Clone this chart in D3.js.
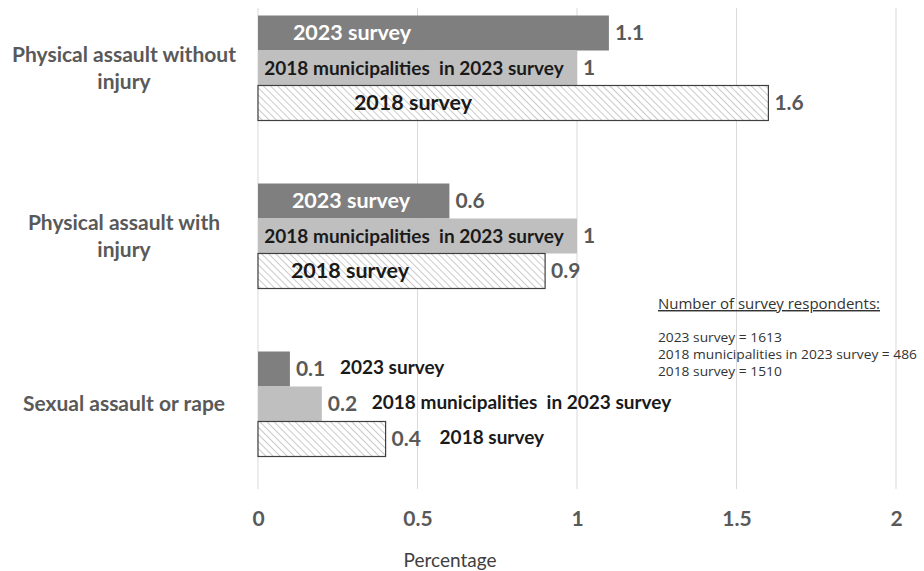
<!DOCTYPE html>
<html><head><meta charset="utf-8">
<script src="https://cdn.jsdelivr.net/npm/d3@7"></script>
<style>body{margin:0;background:#fff}svg{display:block}</style>
</head><body>
<svg id="c" width="924" height="571"></svg>
<script>
const categories = ["Physical assault without injury", "Physical assault with injury", "Sexual assault or rape"];
const categoryLines = [["Physical assault without", "injury"], ["Physical assault with", "injury"], ["Sexual assault or rape"]];
const series = ["2023 survey", "2018 municipalities  in 2023 survey", "2018 survey"];
const values2023 = [1.1, 0.6, 0.1];
const valuesMuni = [1, 1, 0.2];
const values2018 = [1.6, 0.9, 0.4];
const xTicks = [0, 0.5, 1, 1.5, 2];
const xTitle = "Percentage";
const noteTitle = "Number of survey respondents:";
const noteLines = ["2023 survey = 1613", "2018 municipalities in 2023 survey = 486", "2018 survey = 1510"];

const allValues = [values2023, valuesMuni, values2018];
const svg = d3.select("#c");
const font = "Lato, 'Open Sans', sans-serif";
const x = d3.scaleLinear().domain([0, 2]).range([258, 896]);
const y = d3.scaleBand().domain(categories).range([-16, 488]);
const yi = d3.scaleBand().domain(series).range([-52.5, 52.5]);

// hatch pattern
const defs = svg.append("defs");
const pat = defs.append("pattern").attr("id", "hatch").attr("patternUnits", "userSpaceOnUse")
  .attr("width", 5).attr("height", 5).attr("patternTransform", "rotate(-45)");
pat.append("rect").attr("width", 5).attr("height", 5).attr("fill", "#fff");
pat.append("line").attr("x1", 0).attr("y1", 0).attr("x2", 0).attr("y2", 5)
  .attr("stroke", "#bdbdbd").attr("stroke-width", 1.6);

// gridlines
svg.append("g").selectAll("line").data(xTicks).join("line")
  .attr("x1", d => x(d)).attr("x2", d => x(d)).attr("y1", 8).attr("y2", 489)
  .attr("stroke", "#d9d9d9").attr("stroke-width", 1);

// axis tick labels
const ax = d3.axisBottom(x).tickValues(xTicks).tickFormat(d3.format("")).tickSize(0).tickPadding(0);
const axg = svg.append("g").attr("transform", "translate(0,511)").call(ax);
axg.select(".domain").remove();
axg.selectAll("text").attr("font-family", font).attr("font-weight", "bold")
  .attr("font-size", 21).attr("fill", "#595959");

svg.append("text").attr("x", 450).attr("y", 567).attr("text-anchor", "middle")
  .attr("font-family", font).attr("font-size", 19).attr("fill", "#404040").text(xTitle);

// category labels
categories.forEach((c, i) => {
  const lines = categoryLines[i];
  const cy = y(c) + y.bandwidth() / 2;
  const start = cy - (lines.length - 1) * 27 / 2 + 7;
  lines.forEach((ln, j) => {
    svg.append("text").attr("x", 124).attr("y", start + j * 27).attr("text-anchor", "middle")
      .attr("font-family", font).attr("font-weight", "bold").attr("font-size", 21)
      .attr("fill", "#595959").text(ln);
  });
});

const fills = ["#7f7f7f", "#bfbfbf", "url(#hatch)"];
const labelColors = ["#ffffff", "#1a1a1a", "#1a1a1a"];
const insideCenters = [[352, 414, 413], [351, 414, 350]];

categories.forEach((c, ci) => {
  const cy = y(c) + y.bandwidth() / 2;
  series.forEach((s, si) => {
    const v = allValues[si][ci];
    const top = cy + yi(s);
    const h = yi.bandwidth();
    const r = svg.append("rect").attr("x", x(0)).attr("y", top).attr("width", x(v) - x(0)).attr("height", h)
      .attr("fill", fills[si]);
    if (si === 2) r.attr("stroke", "#404040").attr("stroke-width", 1.2);
    const my = top + h / 2 + 7;
    svg.append("text").attr("x", x(v) + 6).attr("y", my)
      .attr("font-family", font).attr("font-weight", "bold").attr("font-size", 21)
      .attr("fill", "#595959").text(d3.format("")(v));
    if (ci < 2) {
      svg.append("text").attr("x", insideCenters[ci][si]).attr("y", my).attr("text-anchor", "middle")
        .attr("xml:space", "preserve").style("white-space", "pre")
        .attr("font-family", font).attr("font-weight", "bold").attr("font-size", si === 1 ? 19 : 21.5)
        .attr("fill", labelColors[si]).text(s);
    } else {
      svg.append("text").attr("x", x(v) + (si === 2 ? 54 : 50)).attr("y", my - 2)
        .attr("xml:space", "preserve").style("white-space", "pre")
        .attr("font-family", font).attr("font-weight", "bold").attr("font-size", 19)
        .attr("fill", "#1a1a1a").text(s);
    }
  });
});

// note
const noteFont = "'Open Sans', sans-serif";
svg.append("text").attr("x", 658).attr("y", 309).attr("font-family", noteFont)
  .attr("font-size", 14.5).attr("fill", "#333").attr("text-decoration", "underline")
  .attr("textLength", 222).attr("lengthAdjust", "spacingAndGlyphs").text(noteTitle);
noteLines.forEach((t, i) => {
  const tx = svg.append("text").attr("x", 658).attr("y", 342 + i * 17).attr("font-family", noteFont)
    .attr("font-size", 12.2).attr("fill", "#333").text(t);
  const len = tx.node().getComputedTextLength();
  tx.attr("textLength", len * 1.13).attr("lengthAdjust", "spacingAndGlyphs");
});
</script>
</body></html>
